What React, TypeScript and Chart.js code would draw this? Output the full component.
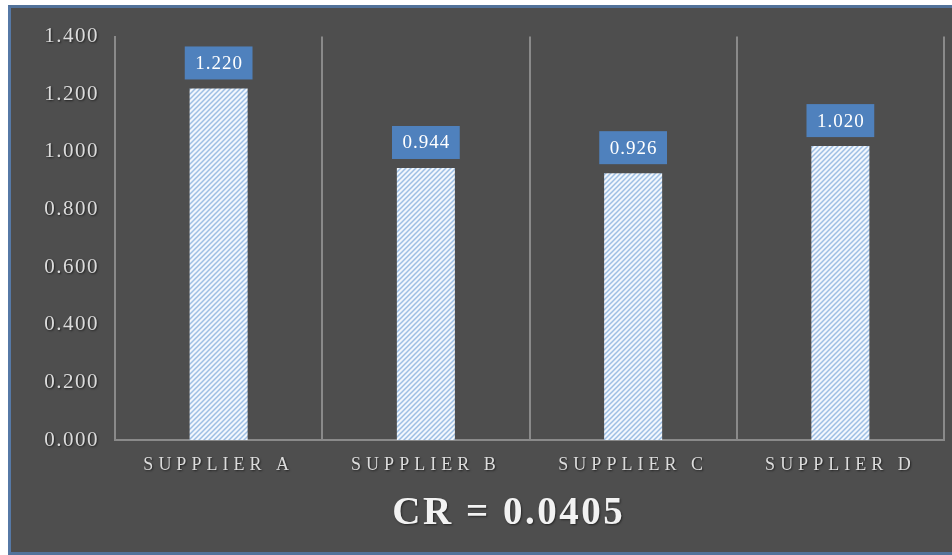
import React, { useEffect, useRef } from 'react';
import { Chart, registerables, CategoryScale, LinearScale } from 'chart.js';

// Supplier priority weights with the consistency ratio of the comparison matrix
const suppliers = ['SUPPLIER A', 'SUPPLIER B', 'SUPPLIER C', 'SUPPLIER D'];
const weights = [1.22, 0.944, 0.926, 1.02];
const yMin = 0;
const yMax = 1.4;
const yStep = 0.2;
const crLabel = 'CR = 0.0405';

const SERIF = '"Liberation Serif", "DejaVu Serif", "Times New Roman", serif';

// Category axis whose labels are drawn letter-spaced with a soft shadow
class SpacedCategoryScale extends CategoryScale {
  static id = 'spacedCategory';
  static defaults = CategoryScale.defaults;
  drawLabels(chartArea: any) {
    const ctx = this.ctx as any;
    ctx.save();
    ctx.letterSpacing = (this.options as any).labelSpacing || '0px';
    ctx.shadowColor = 'rgba(0,0,0,0.6)';
    ctx.shadowBlur = 2;
    ctx.shadowOffsetX = 1;
    ctx.shadowOffsetY = 1;
    super.drawLabels(chartArea);
    ctx.restore();
  }
}

class SpacedLinearScale extends LinearScale {
  static id = 'spacedLinear';
  static defaults = LinearScale.defaults;
  drawLabels(chartArea: any) {
    const ctx = this.ctx as any;
    ctx.save();
    ctx.letterSpacing = (this.options as any).labelSpacing || '0px';
    ctx.shadowColor = 'rgba(0,0,0,0.6)';
    ctx.shadowBlur = 2;
    ctx.shadowOffsetX = 1;
    ctx.shadowOffsetY = 1;
    super.drawLabels(chartArea);
    ctx.restore();
  }
}

Chart.register(...registerables, SpacedCategoryScale, SpacedLinearScale);

function makeHatch(): CanvasPattern | string {
  const s = 5;
  const c = document.createElement('canvas');
  c.width = s;
  c.height = s;
  const g = c.getContext('2d');
  if (!g) return '#dde9f6';
  g.fillStyle = '#f2f7fd';
  g.fillRect(0, 0, s, s);
  g.strokeStyle = '#9dbfe4';
  g.lineWidth = 1.5;
  g.beginPath();
  g.moveTo(0, s);
  g.lineTo(s, 0);
  g.moveTo(-1, 1);
  g.lineTo(1, -1);
  g.moveTo(s - 1, s + 1);
  g.lineTo(s + 1, s - 1);
  g.stroke();
  return g.createPattern(c, 'repeat') || '#dde9f6';
}

// Blue value boxes above each bar
const valueBoxes = {
  id: 'valueBoxes',
  afterDatasetsDraw(chart: any) {
    const ctx = chart.ctx;
    const meta = chart.getDatasetMeta(0);
    const data = chart.data.datasets[0].data as number[];
    ctx.save();
    ctx.letterSpacing = '1px';
    ctx.font = `19px ${SERIF}`;
    ctx.textAlign = 'center';
    ctx.textBaseline = 'middle';
    meta.data.forEach((bar: any, i: number) => {
      const text = Number(data[i]).toFixed(3);
      const tw = ctx.measureText(text).width;
      const w = tw + 20;
      const h = 33;
      const bottom = bar.y - 9;
      ctx.fillStyle = '#4f81bd';
      ctx.fillRect(bar.x - w / 2, bottom - h, w, h);
      ctx.fillStyle = '#ffffff';
      ctx.fillText(text, bar.x + 0.5, bottom - h / 2 + 1);
    });
    ctx.restore();
  },
};

// Consistency ratio caption under the axis labels
const crCaption = {
  id: 'crCaption',
  afterDraw(chart: any) {
    const ctx = chart.ctx;
    const a = chart.chartArea;
    ctx.save();
    ctx.letterSpacing = '2.5px';
    ctx.font = `bold 39px ${SERIF}`;
    ctx.textAlign = 'center';
    ctx.textBaseline = 'middle';
    ctx.shadowColor = 'rgba(0,0,0,0.5)';
    ctx.shadowBlur = 2;
    ctx.shadowOffsetX = 1;
    ctx.shadowOffsetY = 1;
    ctx.fillStyle = '#f2f2f2';
    ctx.fillText(crLabel, a.left + (a.right - a.left) * 0.475, a.bottom + 74);
    ctx.restore();
  },
};

export default function App() {
  const canvasRef = useRef<HTMLCanvasElement | null>(null);

  useEffect(() => {
    const canvas = canvasRef.current;
    if (!canvas) return;
    const chart = new Chart(canvas, {
      type: 'bar',
      data: {
        labels: suppliers,
        datasets: [
          {
            data: weights,
            backgroundColor: makeHatch() as any,
            borderWidth: 0,
            barPercentage: 0.28,
            categoryPercentage: 1,
          },
        ],
      },
      options: {
        animation: false,
        responsive: false,
        layout: { padding: { top: 27, right: 8, left: 0, bottom: 0 } },
        plugins: {
          legend: { display: false },
          tooltip: { enabled: false },
          title: { display: false },
        },
        scales: {
          x: {
            type: 'spacedCategory' as any,
            labelSpacing: '5px',
            afterFit: (s: any) => {
              s.height = 112;
            },
            grid: {
              display: true,
              offset: true,
              color: '#8a8a8a',
              lineWidth: 2,
              drawTicks: false,
            },
            border: { display: true, color: '#8a8a8a', width: 2 },
            ticks: {
              padding: 14,
              color: '#dcdcdc',
              font: { family: SERIF, size: 18 },
            },
          } as any,
          y: {
            type: 'spacedLinear' as any,
            labelSpacing: '1.5px',
            min: yMin,
            max: yMax,
            afterFit: (s: any) => {
              s.width = 104;
            },
            grid: { display: false, drawTicks: false },
            border: { display: true, color: '#8a8a8a', width: 2 },
            ticks: {
              stepSize: yStep,
              padding: 16,
              color: '#dcdcdc',
              font: { family: SERIF, size: 21 },
              callback: (v: any) => Number(v).toFixed(3),
            },
          } as any,
        },
      },
      plugins: [valueBoxes, crCaption],
    });
    return () => chart.destroy();
  }, []);

  return (
    <div
      style={{
        position: 'fixed',
        left: 8,
        top: 5,
        width: 944,
        height: 550,
        boxSizing: 'border-box',
        borderTop: '3px solid #52729a',
        borderLeft: '3px solid #5679a6',
        borderBottom: '3px solid #52729a',
        background: '#4e4e4e',
      }}
    >
      <canvas ref={canvasRef} width={941} height={544} style={{ display: 'block', width: 941, height: 544 }} />
    </div>
  );
}
